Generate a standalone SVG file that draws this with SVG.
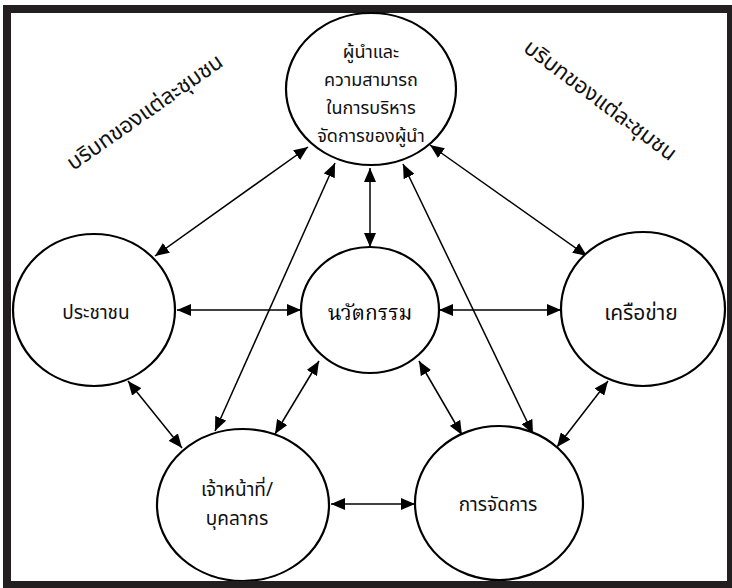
<svg xmlns="http://www.w3.org/2000/svg" width="732" height="588" viewBox="0 0 732 588">
<style>
.node{fill:#fff;stroke:#000;stroke-width:2.2}
.lbl{font-family:"Noto Sans Thai","Noto Sans Thai UI","Noto Sans",sans-serif;font-size:19px;fill:#111;text-anchor:middle}
.top{font-size:18px}
.ser{font-family:"Noto Serif Thai","Noto Serif","Liberation Serif",serif;font-size:21px;font-weight:normal;fill:#000;text-anchor:middle}
.ctx{font-family:"Noto Sans Thai","Noto Sans",sans-serif;font-size:22px;fill:#111;text-anchor:middle}
.arr{stroke:#000;stroke-width:1.5;fill:none;marker-start:url(#ah);marker-end:url(#ah)}
</style>
<defs>
<marker id="ah" markerUnits="userSpaceOnUse" markerWidth="14" markerHeight="12" refX="14" refY="6" orient="auto-start-reverse">
<path d="M0,0 L14,6 L0,12 z" fill="#000"/>
</marker>
</defs>
<rect x="0" y="0" width="732" height="588" fill="#fff"/>
<rect x="7" y="9" width="724" height="576" fill="none" stroke="#231f20" stroke-width="8"/>
<g id="connectors">
<line class="arr" x1="308" y1="147" x2="155" y2="256"/>
<line class="arr" x1="335" y1="163" x2="215" y2="431"/>
<line class="arr" x1="370" y1="168" x2="370" y2="247"/>
<line class="arr" x1="403" y1="164" x2="533" y2="434"/>
<line class="arr" x1="430" y1="145" x2="587" y2="256"/>
<line class="arr" x1="177" y1="310" x2="301" y2="310"/>
<line class="arr" x1="439" y1="310" x2="561" y2="310"/>
<line class="arr" x1="128" y1="381" x2="182" y2="448"/>
<line class="arr" x1="319" y1="361" x2="275" y2="434"/>
<line class="arr" x1="419" y1="361" x2="462" y2="435"/>
<line class="arr" x1="608" y1="381" x2="557" y2="447"/>
<line class="arr" x1="331" y1="504" x2="415" y2="504"/>
</g>
<g id="leader">
<ellipse class="node" cx="371" cy="89" rx="85" ry="76"/>
<text class="lbl top" x="371" y="58">ผู้นำและ</text>
<text class="lbl top" x="371" y="86">ความสามารถ</text>
<text class="lbl top" x="371" y="114">ในการบริหาร</text>
<text class="lbl top" x="371" y="142">จัดการของผู้นำ</text>
</g>
<g id="people">
<ellipse class="node" cx="94" cy="310" rx="81" ry="76"/>
<text class="lbl" x="96" y="319">ประชาชน</text>
</g>
<g id="innovation">
<ellipse class="node" cx="370" cy="310" rx="69" ry="63"/>
<text class="ser" x="370" y="320">นวัตกรรม</text>
</g>
<g id="network">
<ellipse class="node" cx="643" cy="309" rx="82" ry="77"/>
<text class="lbl" x="641" y="320" style="font-size:21px">เครือข่าย</text>
</g>
<g id="staff">
<ellipse class="node" cx="243" cy="505" rx="86" ry="76"/>
<text class="lbl" x="237" y="496">เจ้าหน้าที่/</text>
<text class="lbl" x="237" y="525">บุคลากร</text>
</g>
<g id="management">
<ellipse class="node" cx="499" cy="503" rx="84" ry="77"/>
<text class="lbl" x="498" y="511">การจัดการ</text>
</g>
<rect x="3" y="581" width="729" height="7" fill="#231f20"/>
<g id="context-left">
<text class="ctx" transform="translate(149,118) rotate(-35)">บริบทของแต่ละชุมชน</text>
</g>
<g id="context-right">
<text class="ctx" transform="translate(596,106) rotate(37)">บริบทของแต่ละชุมชน</text>
</g>
</svg>
